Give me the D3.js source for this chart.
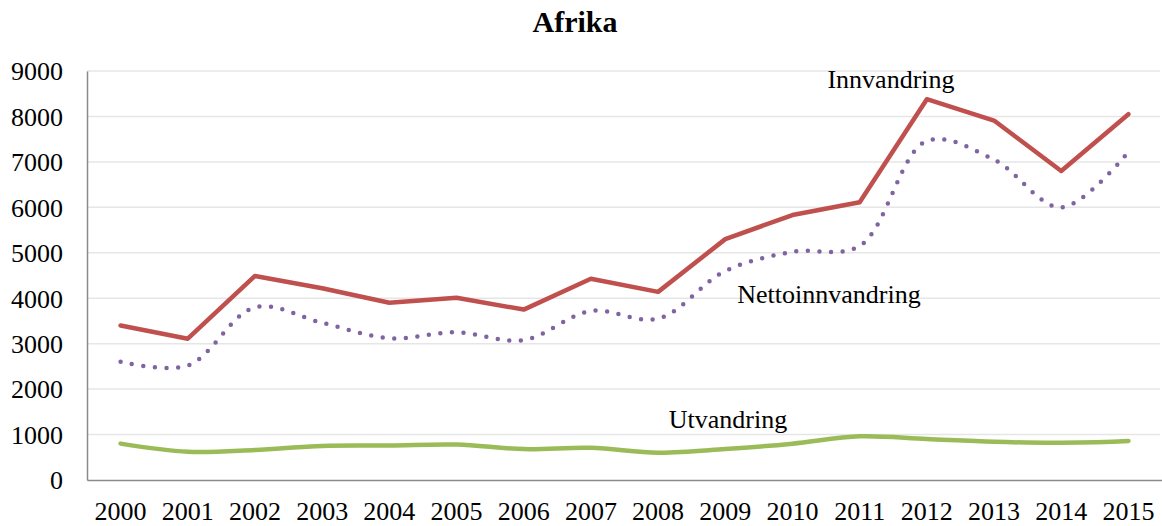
<!DOCTYPE html>
<html><head><meta charset="utf-8">
<script src="https://cdn.jsdelivr.net/npm/d3@7"></script>
<style>body{margin:0;background:#fff}svg{display:block}text{font-family:"Liberation Serif","Times New Roman",serif;fill:#000}</style>
</head><body><svg id="c" width="1162" height="526"></svg>
<script>
const years = ["2000","2001","2002","2003","2004","2005","2006","2007","2008","2009","2010","2011","2012","2013","2014","2015"];
const innvandring = [3400,3110,4490,4220,3900,4010,3750,4430,4140,5300,5830,6110,8380,7910,6800,8050];
const nettoinnvandring = [2600,2520,3800,3460,3120,3250,3080,3720,3550,4600,5020,5150,7460,7050,6000,7220];
const utvandring = [800,620,660,750,760,780,680,710,600,680,800,960,900,840,820,860];
const yTicks = [0,1000,2000,3000,4000,5000,6000,7000,8000,9000];
const title = "Afrika";

(function () {
const svg = d3.select("#c");
const mLeft = 87, mRight = 1162, mTop = 71, mBottom = 480;
const x = d3.scaleBand().domain(years).range([mLeft, mRight]).padding(0);
const y = d3.scaleLinear().domain([0, 9000]).range([mBottom, mTop]);
const cx = d => x(d) + x.bandwidth() / 2;

svg.append("text").attr("x", 575).attr("y", 32).attr("text-anchor", "middle")
  .style("font-size", "30px").style("font-weight", "bold").text(title);

// gridlines
svg.append("g").selectAll("line").data(yTicks.filter(t => t > 0)).join("line")
  .attr("x1", mLeft).attr("x2", 1160).attr("y1", d => y(d)).attr("y2", d => y(d))
  .attr("stroke", "#e6e6e6").attr("stroke-width", 1.5);

// y axis
const ya = svg.append("g").attr("transform", `translate(${mLeft},0)`)
  .call(d3.axisLeft(y).tickValues(yTicks).tickSize(0).tickPadding(24).tickFormat(d3.format("d")));
ya.select(".domain").attr("stroke", "#8a8a8a").attr("stroke-width", 1.5);
ya.selectAll("text").style("font-size", "26px").attr("dy", "0.34em");

// x axis
const xa = svg.append("g").attr("transform", `translate(0,${mBottom})`)
  .call(d3.axisBottom(x).tickSize(0).tickPadding(22));
xa.select(".domain").attr("stroke", "#8a8a8a").attr("stroke-width", 1.5);
xa.selectAll("text").style("font-size", "26px").attr("dy", "0.71em");

const lineStraight = d3.line().x((d, i) => cx(years[i])).y(d => y(d));
const lineSmooth = d3.line().x((d, i) => cx(years[i])).y(d => y(d)).curve(d3.curveCatmullRom.alpha(0.5));

svg.append("path").datum(utvandring).attr("d", lineSmooth).attr("fill", "none")
  .attr("stroke", "#9BBB59").attr("stroke-width", 4.5).attr("stroke-linecap", "round").attr("stroke-linejoin", "round");
svg.append("path").datum(nettoinnvandring).attr("d", lineSmooth).attr("fill", "none")
  .attr("stroke", "#8064A2").attr("stroke-width", 4.5).attr("stroke-linecap", "round")
  .attr("stroke-dasharray", "0 11.6");
svg.append("path").datum(innvandring).attr("d", lineStraight).attr("fill", "none")
  .attr("stroke", "#C0504D").attr("stroke-width", 4.5).attr("stroke-linecap", "round").attr("stroke-linejoin", "round");

const labels = [["Innvandring", 891, 88], ["Nettoinnvandring", 829, 303], ["Utvandring", 728, 428]];
svg.append("g").selectAll("text").data(labels).join("text")
  .attr("x", d => d[1]).attr("y", d => d[2]).attr("text-anchor", "middle")
  .style("font-size", "26px").text(d => d[0]);
})();
</script></body></html>
